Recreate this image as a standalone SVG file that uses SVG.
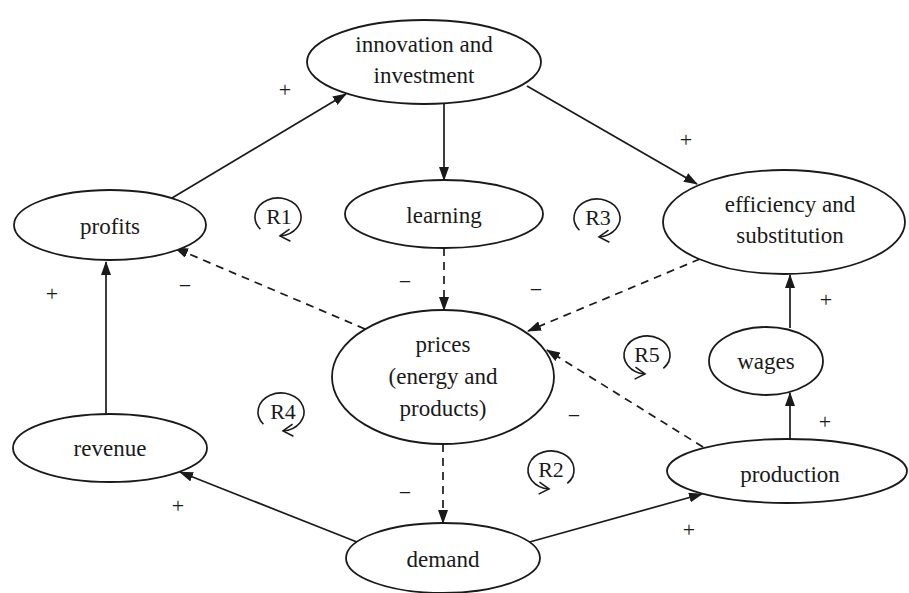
<svg xmlns="http://www.w3.org/2000/svg" width="909" height="593" viewBox="0 0 909 593">
<defs>
<marker id="arr" markerUnits="userSpaceOnUse" markerWidth="14" markerHeight="10" viewBox="0 0 14 10" refX="13" refY="5" orient="auto">
<path d="M0,0 L14,5 L0,10 z" fill="#1a1a1a"/>
</marker>
<marker id="chev" markerUnits="userSpaceOnUse" markerWidth="14" markerHeight="14" viewBox="-12 -7 14 14" refX="0" refY="0" orient="auto" overflow="visible">
<path d="M-10,-6 L0,0 L-10,6" fill="none" stroke="#1a1a1a" stroke-width="1.6"/>
</marker>
</defs>
<style>
.node ellipse{fill:#fff;stroke:#1a1a1a;stroke-width:1.8}
text{font-family:"Liberation Serif","Times New Roman",serif;font-size:23px;fill:#1a1a1a;text-anchor:middle}
.sign{font-size:22px}
.loop text{font-size:22px}
.loop path{fill:none;stroke:#1a1a1a;stroke-width:1.6;marker-end:url(#chev)}
.edge{stroke:#1a1a1a;stroke-width:1.7;fill:none;marker-end:url(#arr)}
.dash{stroke-dasharray:8 6}
</style>
<rect width="909" height="593" fill="#fff"/>
<g id="connectors">
<line class="edge" x1="172" y1="198" x2="346" y2="94"/>
<line class="edge" x1="444" y1="104" x2="444" y2="180"/>
<line class="edge" x1="527" y1="86" x2="697" y2="184"/>
<line class="edge dash" x1="444" y1="248" x2="444" y2="310"/>
<line class="edge dash" x1="700" y1="259" x2="528" y2="331"/>
<line class="edge dash" x1="365" y1="329" x2="175" y2="248"/>
<line class="edge dash" x1="443" y1="444" x2="443" y2="523"/>
<line class="edge dash" x1="703" y1="447" x2="547" y2="350"/>
<line class="edge" x1="106" y1="414" x2="106" y2="262"/>
<line class="edge" x1="362" y1="544" x2="180" y2="472"/>
<line class="edge" x1="526" y1="543" x2="702" y2="494"/>
<line class="edge" x1="790" y1="439" x2="790" y2="393"/>
<line class="edge" x1="790" y1="328" x2="790" y2="275"/>
</g>
<g id="signs">
<text class="sign" x="285" y="97">+</text>
<text class="sign" x="686" y="147">+</text>
<text class="sign" x="405" y="289">−</text>
<text class="sign" x="536" y="297">−</text>
<text class="sign" x="185" y="293">−</text>
<text class="sign" x="52" y="301">+</text>
<text class="sign" x="405" y="500">−</text>
<text class="sign" x="574" y="423">−</text>
<text class="sign" x="178" y="513">+</text>
<text class="sign" x="689" y="537">+</text>
<text class="sign" x="825" y="429">+</text>
<text class="sign" x="826" y="307">+</text>
</g>
<g id="innovation" class="node"><ellipse cx="424" cy="62" rx="117" ry="42"/><text x="424" y="52">innovation and</text><text x="424" y="83">investment</text></g>
<g id="learning" class="node"><ellipse cx="444" cy="214" rx="99" ry="34"/><text x="444" y="223">learning</text></g>
<g id="profits" class="node"><ellipse cx="110" cy="225" rx="96" ry="35"/><text x="110" y="234">profits</text></g>
<g id="efficiency" class="node"><ellipse cx="784" cy="222" rx="121" ry="52"/><text x="790" y="212">efficiency and</text><text x="790" y="243">substitution</text></g>
<g id="prices" class="node"><ellipse cx="443" cy="377" rx="111" ry="67"/><text x="443" y="352">prices</text><text x="443" y="384">(energy and</text><text x="443" y="416">products)</text></g>
<g id="wages" class="node"><ellipse cx="766" cy="361" rx="57" ry="34"/><text x="766" y="369">wages</text></g>
<g id="revenue" class="node"><ellipse cx="110" cy="448" rx="97" ry="34"/><text x="110" y="456">revenue</text></g>
<g id="production" class="node"><ellipse cx="787" cy="471" rx="120" ry="32"/><text x="790" y="482">production</text></g>
<g id="demand" class="node"><ellipse cx="443" cy="558" rx="97" ry="35"/><text x="443" y="567">demand</text></g>
<g id="loop-R1" class="loop"><path d="M260.4,229.2 A23,19 0 1 1 280,235.9"/><text x="279" y="224">R1</text></g>
<g id="loop-R3" class="loop"><path d="M579.4,230.2 A23,19 0 1 1 599,236.9"/><text x="598" y="225">R3</text></g>
<g id="loop-R4" class="loop"><path d="M263.4,424.2 A23,19 0 1 1 283,430.9"/><text x="283" y="419">R4</text></g>
<g id="loop-R5" class="loop"><path d="M663.3,368.4 A23,19 0 1 0 645,373.9"/><text x="647" y="362">R5</text></g>
<g id="loop-R2" class="loop"><path d="M567.3,483.4 A23,19 0 1 0 549,488.9"/><text x="551" y="477">R2</text></g>
</svg>
